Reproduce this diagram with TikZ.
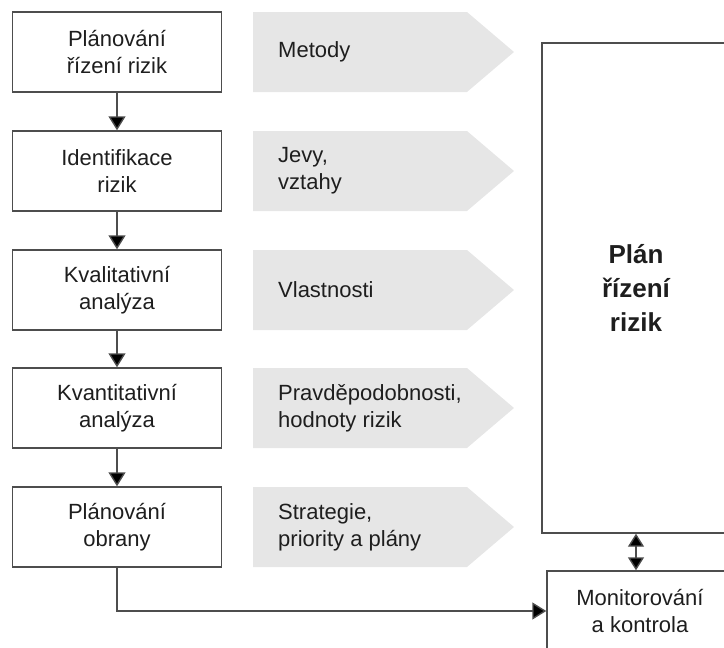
\documentclass[tikz,border=0pt]{standalone}
\usepackage{fontspec}
\setmainfont{Liberation Sans}
\usetikzlibrary{arrows.meta}
\definecolor{linegray}{HTML}{4D4D4D}
\definecolor{tagfill}{HTML}{E6E6E6}
\definecolor{textgray}{HTML}{1E1E1E}
\tikzstyle{stage}=[draw=linegray,line width=1.4pt,fill=white,text=textgray,minimum width=209pt,minimum height=80pt,inner sep=0pt,align=center,font=\fontsize{22}{27}\selectfont]
\tikzstyle{tag}=[fill=tagfill]
\tikzstyle{tagtext}=[anchor=west,align=left,inner sep=0pt,text=textgray,font=\fontsize{22}{27}\selectfont]
\tikzstyle{flow}=[draw=linegray,line width=1.4pt,-{Triangle[length=14pt,width=17pt,fill=black]}]

\begin{document}
\begin{tikzpicture}[x=1pt,y=-1pt]
\useasboundingbox (0,0) rectangle (724,648);
\clip (0,0) rectangle (724,648);
% grey pointers
\fill[tag] (253,12) -- (467,12) -- (514,52) -- (467,92) -- (253,92) -- cycle;
\fill[tag] (253,131) -- (467,131) -- (514,171) -- (467,211) -- (253,211) -- cycle;
\fill[tag] (253,250) -- (467,250) -- (514,290) -- (467,330) -- (253,330) -- cycle;
\fill[tag] (253,368) -- (467,368) -- (514,408) -- (467,448) -- (253,448) -- cycle;
\fill[tag] (253,487) -- (467,487) -- (514,527) -- (467,567) -- (253,567) -- cycle;
\node[tagtext] (t1) at (278, 52) {Metody};
\node[tagtext] (t2) at (278, 171) {Jevy,\\vztahy};
\node[tagtext] (t3) at (278, 290) {Vlastnosti};
\node[tagtext] (t4) at (278, 408) {Pravděpodobnosti,\\hodnoty rizik};
\node[tagtext] (t5) at (278, 527) {Strategie,\\priority a plány};
% process steps
\node[stage] (p1) at (117, 52) {Plánování\\řízení rizik};
\node[stage] (p2) at (117, 171) {Identifikace\\rizik};
\node[stage] (p3) at (117, 290) {Kvalitativní\\analýza};
\node[stage] (p4) at (117, 408) {Kvantitativní\\analýza};
\node[stage] (p5) at (117, 527) {Plánování\\obrany};
\node[stage,minimum width=188pt,minimum height=490pt,font=\fontsize{26}{34}\selectfont\bfseries] (plan) at (636, 288) {Plán\\řízení\\rizik};
\node[stage,minimum width=186pt] (mon) at (640, 611) {Monitorování\\a kontrola};
\draw[flow] (p1) -- (p2);
\draw[flow] (p2) -- (p3);
\draw[flow] (p3) -- (p4);
\draw[flow] (p4) -- (p5);
\draw[flow] (p5.south) |- (mon.west);
\draw[flow,{Triangle[length=13pt,width=16pt,fill=black]}-{Triangle[length=13pt,width=16pt,fill=black]}] (plan.south) -- (plan.south |- mon.north);
\end{tikzpicture}
\end{document}
